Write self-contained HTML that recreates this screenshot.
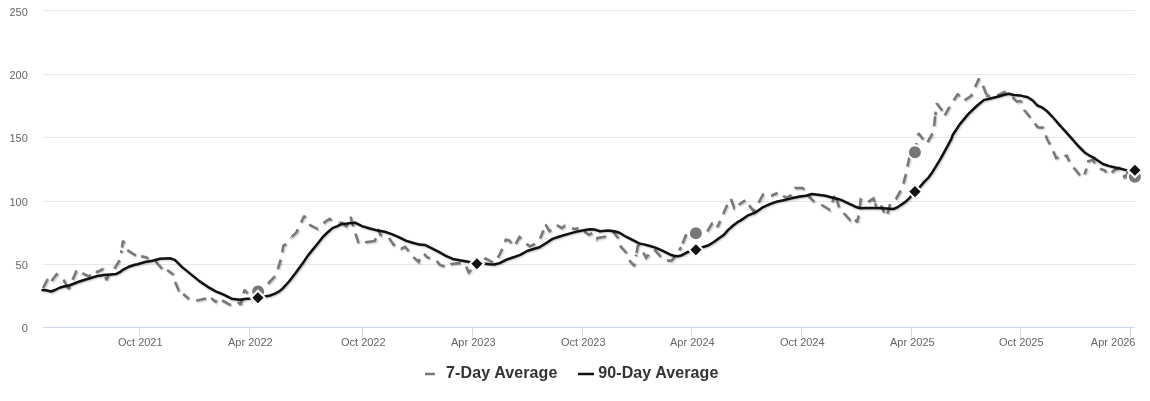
<!DOCTYPE html>
<html><head><meta charset="utf-8"><style>
html,body{margin:0;padding:0;background:#fff;}
svg{display:block;will-change:transform;}
.yl{font-family:"Liberation Sans",Arial,sans-serif;font-size:11px;fill:#666;}
.xl{font-family:"Liberation Sans",Arial,sans-serif;font-size:11px;fill:#666;}
.lg{font-family:"Liberation Sans",Arial,sans-serif;font-size:16px;font-weight:bold;fill:#333;}
</style></head><body>
<svg width="1150" height="401" viewBox="0 0 1150 401">
<path d="M43 10.5H1135" stroke="#e6e6e6" stroke-width="1"/>
<path d="M43 74.5H1135" stroke="#e6e6e6" stroke-width="1"/>
<path d="M43 137.5H1135" stroke="#e6e6e6" stroke-width="1"/>
<path d="M43 201.5H1135" stroke="#e6e6e6" stroke-width="1"/>
<path d="M43 264.5H1135" stroke="#e6e6e6" stroke-width="1"/>
<path d="M43 327.5H1135" stroke="#ccd6eb" stroke-width="1"/>
<path d="M139.5 327V337" stroke="#ccd6eb" stroke-width="1"/>
<path d="M249.5 327V337" stroke="#ccd6eb" stroke-width="1"/>
<path d="M362.5 327V337" stroke="#ccd6eb" stroke-width="1"/>
<path d="M472.5 327V337" stroke="#ccd6eb" stroke-width="1"/>
<path d="M582.5 327V337" stroke="#ccd6eb" stroke-width="1"/>
<path d="M691.5 327V337" stroke="#ccd6eb" stroke-width="1"/>
<path d="M801.5 327V337" stroke="#ccd6eb" stroke-width="1"/>
<path d="M911.5 327V337" stroke="#ccd6eb" stroke-width="1"/>
<path d="M1020.5 327V337" stroke="#ccd6eb" stroke-width="1"/>
<path d="M1130.5 327V337" stroke="#ccd6eb" stroke-width="1"/>
<text x="27.8" y="16" text-anchor="end" class="yl">250</text>
<text x="27.8" y="79" text-anchor="end" class="yl">200</text>
<text x="27.8" y="142" text-anchor="end" class="yl">150</text>
<text x="27.8" y="206" text-anchor="end" class="yl">100</text>
<text x="27.8" y="269" text-anchor="end" class="yl">50</text>
<text x="27.8" y="332" text-anchor="end" class="yl">0</text>
<text x="140.3" y="346" text-anchor="middle" class="xl">Oct 2021</text>
<text x="250.3" y="346" text-anchor="middle" class="xl">Apr 2022</text>
<text x="363.3" y="346" text-anchor="middle" class="xl">Oct 2022</text>
<text x="473.3" y="346" text-anchor="middle" class="xl">Apr 2023</text>
<text x="583.3" y="346" text-anchor="middle" class="xl">Oct 2023</text>
<text x="692.3" y="346" text-anchor="middle" class="xl">Apr 2024</text>
<text x="802.3" y="346" text-anchor="middle" class="xl">Oct 2024</text>
<text x="912.3" y="346" text-anchor="middle" class="xl">Apr 2025</text>
<text x="1021.3" y="346" text-anchor="middle" class="xl">Oct 2025</text>
<text x="1135.5" y="346" text-anchor="end" class="xl">Apr 2026</text>
<g fill="none" stroke="#000" stroke-opacity="0.05" stroke-width="5" stroke-dasharray="10,7.5" stroke-miterlimit="2" transform="translate(1,1)"><path d="M43.00 288.00 L47.14 280.14" stroke-dashoffset="0.00"/><path d="M47.14 280.14 L48.80 277.00 L51.30 281.30 L56.50 274.30 L59.50 276.50 L62.50 277.80 L68.39 288.80" stroke-dashoffset="8.62"/><path d="M68.39 288.80 L68.50 289.00 L77.00 269.50 L82.00 273.00 L89.00 276.50 L93.70 270.50 L97.00 272.00 L102.50 269.30 L102.63 269.66" stroke-dashoffset="7.17"/><path d="M102.63 269.66 L106.50 280.00 L109.30 272.40 L114.30 268.70 L119.90 259.90 L121.46 250.19" stroke-dashoffset="9.64"/><path d="M121.46 250.19 L123.00 240.60 L127.00 250.00 L135.00 255.00 L138.00 255.90 L141.01 256.34" stroke-dashoffset="14.73"/><path d="M141.01 256.34 L144.90 256.90 L155.90 261.90 L162.90 269.80 L166.90 269.80 L167.09 269.94" stroke-dashoffset="2.23"/><path d="M167.09 269.94 L173.80 274.80 L174.50 280.50 L178.80 290.80 L182.80 293.70 L183.20 294.04" stroke-dashoffset="1.97"/><path d="M183.20 294.04 L189.80 299.70 L195.70 300.70 L204.70 298.70 L210.97 298.70" stroke-dashoffset="2.37"/><path d="M210.97 298.70 L211.70 298.70 L215.70 301.70 L218.60 297.70 L222.60 300.70 L229.60 304.70 L237.60 301.70 L240.60 304.70 L243.60 293.23" stroke-dashoffset="2.45"/><path d="M243.60 293.23 L244.50 289.80 L249.50 295.70 L258.00 290.30 L268.00 283.70 L274.08 277.09" stroke-dashoffset="1.67"/><path d="M274.08 277.09 L276.00 275.00 L281.00 258.50 L283.40 245.60 L286.70 243.90 L291.10 237.60 L291.19 237.51" stroke-dashoffset="8.52"/><path d="M291.19 237.51 L296.40 232.30 L304.20 215.70 L306.00 219.20 L310.30 225.30 L317.30 228.80 L325.20 221.80 L329.50 218.90 L333.00 221.80 L339.29 222.52" stroke-dashoffset="16.75"/><path d="M339.29 222.52 L340.90 222.70 L346.20 226.20 L350.60 216.80 L353.10 226.20 L358.70 243.70 L362.00 244.00 L365.50 242.20 L374.90 240.90 L374.96 240.66" stroke-dashoffset="16.70"/><path d="M374.96 240.66 L378.00 229.00 L380.50 235.00 L388.60 237.40 L393.60 244.90 L395.60 243.70 L400.91 248.44" stroke-dashoffset="7.36"/><path d="M400.91 248.44 L401.20 248.70 L405.00 246.80 L409.30 251.80 L413.70 257.40 L418.50 261.80 L421.00 256.00 L423.50 253.50 L427.40 257.40 L429.72 258.22" stroke-dashoffset="17.18"/><path d="M429.72 258.22 L431.10 258.70 L436.80 261.20 L439.90 264.90 L443.60 266.10 L447.40 267.40 L450.60 264.30 L459.30 263.00 L464.90 263.70 L468.70 272.40 L473.50 267.25" stroke-dashoffset="10.13"/><path d="M473.50 267.25 L476.80 263.70 L485.50 258.50 L493.60 263.00 L498.60 256.20 L503.00 247.30 L505.80 239.70 L509.20 240.40 L510.84 242.52" stroke-dashoffset="4.03"/><path d="M510.84 242.52 L514.00 246.60 L519.50 237.00 L523.00 240.40 L526.40 243.80 L529.80 246.30 L534.00 244.50 L539.50 239.70 L542.90 231.50 L543.09 230.79" stroke-dashoffset="9.09"/><path d="M543.09 230.79 L545.00 223.70 L549.40 231.20 L556.80 225.00 L561.80 228.10 L564.90 225.60 L569.90 227.20 L573.70 228.90 L578.42 228.29" stroke-dashoffset="9.30"/><path d="M578.42 228.29 L579.90 228.10 L584.90 231.80 L588.60 234.90 L592.40 233.10 L596.70 239.00 L597.40 238.00 L605.00 236.70 L611.63 230.07" stroke-dashoffset="10.96"/><path d="M611.63 230.07 L611.70 230.00 L617.70 237.50 L619.30 245.00 L625.90 252.40 L628.90 259.90 L634.20 265.90 L636.20 254.52" stroke-dashoffset="16.70"/><path d="M636.20 254.52 L637.90 244.90 L643.10 252.40 L646.10 257.70 L649.10 253.90 L654.20 249.40 L660.20 256.20 L665.00 260.50 L671.40 260.70 L677.40 253.90 L680.92 246.94" stroke-dashoffset="15.87"/><path d="M680.92 246.94 L681.90 245.00 L687.90 230.20 L695.80 233.30 L706.50 232.70 L712.10 223.30 L715.50 223.60 L716.81 225.53" stroke-dashoffset="13.71"/><path d="M716.81 225.53 L717.60 226.70 L720.30 220.50 L727.20 204.80 L730.80 198.60 L734.20 208.00 L738.78 204.82" stroke-dashoffset="2.25"/><path d="M738.78 204.82 L738.80 204.80 L746.10 199.60 L749.90 206.20 L753.60 211.20 L758.60 202.50 L763.10 194.30 L771.20 195.60 L777.46 193.01" stroke-dashoffset="2.18"/><path d="M777.46 193.01 L778.70 192.50 L786.20 198.10 L791.20 195.00 L794.90 188.10 L802.40 188.10 L804.90 190.00 L807.98 195.17" stroke-dashoffset="10.63"/><path d="M807.98 195.17 L808.60 196.20 L813.60 201.20 L821.20 204.70 L829.60 209.70 L832.40 201.90 L834.59 195.54" stroke-dashoffset="0.79"/><path d="M834.59 195.54 L835.40 193.20 L836.90 200.20 L839.70 209.70 L843.60 213.10 L849.80 219.80 L852.00 216.50 L857.10 222.10 L859.30 212.00 L860.60 199.50 L866.60 203.00 L873.40 198.50 L875.03 203.23" stroke-dashoffset="10.28"/><path d="M875.03 203.23 L876.70 208.10 L878.20 210.50 L881.80 205.80 L885.10 215.90 L886.00 216.50 L887.40 213.70 L890.20 203.60 L895.80 199.10 L900.30 191.20 L903.10 184.50 L905.50 175.20 L909.20 158.00 L914.78 152.13" stroke-dashoffset="6.33"/><path d="M914.78 152.13 L914.90 152.00 L918.50 133.30 L926.50 143.80 L932.50 133.40 L934.20 124.40 L935.26 115.11" stroke-dashoffset="0.62"/><path d="M935.26 115.11 L936.60 103.30 L941.40 109.50 L944.00 116.50 L949.70 106.50 L957.90 93.70 L958.47 94.84" stroke-dashoffset="6.44"/><path d="M958.47 94.84 L960.90 99.70 L964.50 100.20 L971.20 95.70 L978.90 78.60 L982.50 84.50 L986.85 95.58" stroke-dashoffset="8.38"/><path d="M986.85 95.58 L986.90 95.70 L995.90 96.40 L1004.20 92.00 L1012.40 97.20 L1016.90 101.70 L1020.00 100.90 L1020.07 100.95" stroke-dashoffset="6.91"/><path d="M1020.07 100.95 L1021.20 101.70 L1024.20 110.00 L1030.20 117.40 L1037.70 127.20 L1042.07 127.54" stroke-dashoffset="7.68"/><path d="M1042.07 127.54 L1042.90 127.60 L1047.40 140.00 L1050.50 145.10 L1056.20 158.10 L1064.45 156.21" stroke-dashoffset="8.38"/><path d="M1064.45 156.21 L1066.70 155.70 L1070.00 163.00 L1079.70 175.10 L1083.30 177.50 L1086.20 169.50 L1086.45 168.48" stroke-dashoffset="1.48"/><path d="M1086.45 168.48 L1088.20 161.30 L1093.00 159.90 L1095.10 164.00 L1100.60 168.80 L1104.50 170.30 L1106.48 172.36" stroke-dashoffset="11.31"/><path d="M1106.48 172.36 L1107.10 173.00 L1108.20 175.20 L1111.60 172.60 L1114.20 170.30 L1119.00 167.80 L1125.00 178.00 L1128.50 171.00 L1134.90 176.80" stroke-dashoffset="9.87"/></g>
<g fill="none" stroke="#000" stroke-opacity="0.1" stroke-width="3" stroke-dasharray="10,7.5" stroke-miterlimit="2" transform="translate(1,1)"><path d="M43.00 288.00 L47.14 280.14" stroke-dashoffset="0.00"/><path d="M47.14 280.14 L48.80 277.00 L51.30 281.30 L56.50 274.30 L59.50 276.50 L62.50 277.80 L68.39 288.80" stroke-dashoffset="8.62"/><path d="M68.39 288.80 L68.50 289.00 L77.00 269.50 L82.00 273.00 L89.00 276.50 L93.70 270.50 L97.00 272.00 L102.50 269.30 L102.63 269.66" stroke-dashoffset="7.17"/><path d="M102.63 269.66 L106.50 280.00 L109.30 272.40 L114.30 268.70 L119.90 259.90 L121.46 250.19" stroke-dashoffset="9.64"/><path d="M121.46 250.19 L123.00 240.60 L127.00 250.00 L135.00 255.00 L138.00 255.90 L141.01 256.34" stroke-dashoffset="14.73"/><path d="M141.01 256.34 L144.90 256.90 L155.90 261.90 L162.90 269.80 L166.90 269.80 L167.09 269.94" stroke-dashoffset="2.23"/><path d="M167.09 269.94 L173.80 274.80 L174.50 280.50 L178.80 290.80 L182.80 293.70 L183.20 294.04" stroke-dashoffset="1.97"/><path d="M183.20 294.04 L189.80 299.70 L195.70 300.70 L204.70 298.70 L210.97 298.70" stroke-dashoffset="2.37"/><path d="M210.97 298.70 L211.70 298.70 L215.70 301.70 L218.60 297.70 L222.60 300.70 L229.60 304.70 L237.60 301.70 L240.60 304.70 L243.60 293.23" stroke-dashoffset="2.45"/><path d="M243.60 293.23 L244.50 289.80 L249.50 295.70 L258.00 290.30 L268.00 283.70 L274.08 277.09" stroke-dashoffset="1.67"/><path d="M274.08 277.09 L276.00 275.00 L281.00 258.50 L283.40 245.60 L286.70 243.90 L291.10 237.60 L291.19 237.51" stroke-dashoffset="8.52"/><path d="M291.19 237.51 L296.40 232.30 L304.20 215.70 L306.00 219.20 L310.30 225.30 L317.30 228.80 L325.20 221.80 L329.50 218.90 L333.00 221.80 L339.29 222.52" stroke-dashoffset="16.75"/><path d="M339.29 222.52 L340.90 222.70 L346.20 226.20 L350.60 216.80 L353.10 226.20 L358.70 243.70 L362.00 244.00 L365.50 242.20 L374.90 240.90 L374.96 240.66" stroke-dashoffset="16.70"/><path d="M374.96 240.66 L378.00 229.00 L380.50 235.00 L388.60 237.40 L393.60 244.90 L395.60 243.70 L400.91 248.44" stroke-dashoffset="7.36"/><path d="M400.91 248.44 L401.20 248.70 L405.00 246.80 L409.30 251.80 L413.70 257.40 L418.50 261.80 L421.00 256.00 L423.50 253.50 L427.40 257.40 L429.72 258.22" stroke-dashoffset="17.18"/><path d="M429.72 258.22 L431.10 258.70 L436.80 261.20 L439.90 264.90 L443.60 266.10 L447.40 267.40 L450.60 264.30 L459.30 263.00 L464.90 263.70 L468.70 272.40 L473.50 267.25" stroke-dashoffset="10.13"/><path d="M473.50 267.25 L476.80 263.70 L485.50 258.50 L493.60 263.00 L498.60 256.20 L503.00 247.30 L505.80 239.70 L509.20 240.40 L510.84 242.52" stroke-dashoffset="4.03"/><path d="M510.84 242.52 L514.00 246.60 L519.50 237.00 L523.00 240.40 L526.40 243.80 L529.80 246.30 L534.00 244.50 L539.50 239.70 L542.90 231.50 L543.09 230.79" stroke-dashoffset="9.09"/><path d="M543.09 230.79 L545.00 223.70 L549.40 231.20 L556.80 225.00 L561.80 228.10 L564.90 225.60 L569.90 227.20 L573.70 228.90 L578.42 228.29" stroke-dashoffset="9.30"/><path d="M578.42 228.29 L579.90 228.10 L584.90 231.80 L588.60 234.90 L592.40 233.10 L596.70 239.00 L597.40 238.00 L605.00 236.70 L611.63 230.07" stroke-dashoffset="10.96"/><path d="M611.63 230.07 L611.70 230.00 L617.70 237.50 L619.30 245.00 L625.90 252.40 L628.90 259.90 L634.20 265.90 L636.20 254.52" stroke-dashoffset="16.70"/><path d="M636.20 254.52 L637.90 244.90 L643.10 252.40 L646.10 257.70 L649.10 253.90 L654.20 249.40 L660.20 256.20 L665.00 260.50 L671.40 260.70 L677.40 253.90 L680.92 246.94" stroke-dashoffset="15.87"/><path d="M680.92 246.94 L681.90 245.00 L687.90 230.20 L695.80 233.30 L706.50 232.70 L712.10 223.30 L715.50 223.60 L716.81 225.53" stroke-dashoffset="13.71"/><path d="M716.81 225.53 L717.60 226.70 L720.30 220.50 L727.20 204.80 L730.80 198.60 L734.20 208.00 L738.78 204.82" stroke-dashoffset="2.25"/><path d="M738.78 204.82 L738.80 204.80 L746.10 199.60 L749.90 206.20 L753.60 211.20 L758.60 202.50 L763.10 194.30 L771.20 195.60 L777.46 193.01" stroke-dashoffset="2.18"/><path d="M777.46 193.01 L778.70 192.50 L786.20 198.10 L791.20 195.00 L794.90 188.10 L802.40 188.10 L804.90 190.00 L807.98 195.17" stroke-dashoffset="10.63"/><path d="M807.98 195.17 L808.60 196.20 L813.60 201.20 L821.20 204.70 L829.60 209.70 L832.40 201.90 L834.59 195.54" stroke-dashoffset="0.79"/><path d="M834.59 195.54 L835.40 193.20 L836.90 200.20 L839.70 209.70 L843.60 213.10 L849.80 219.80 L852.00 216.50 L857.10 222.10 L859.30 212.00 L860.60 199.50 L866.60 203.00 L873.40 198.50 L875.03 203.23" stroke-dashoffset="10.28"/><path d="M875.03 203.23 L876.70 208.10 L878.20 210.50 L881.80 205.80 L885.10 215.90 L886.00 216.50 L887.40 213.70 L890.20 203.60 L895.80 199.10 L900.30 191.20 L903.10 184.50 L905.50 175.20 L909.20 158.00 L914.78 152.13" stroke-dashoffset="6.33"/><path d="M914.78 152.13 L914.90 152.00 L918.50 133.30 L926.50 143.80 L932.50 133.40 L934.20 124.40 L935.26 115.11" stroke-dashoffset="0.62"/><path d="M935.26 115.11 L936.60 103.30 L941.40 109.50 L944.00 116.50 L949.70 106.50 L957.90 93.70 L958.47 94.84" stroke-dashoffset="6.44"/><path d="M958.47 94.84 L960.90 99.70 L964.50 100.20 L971.20 95.70 L978.90 78.60 L982.50 84.50 L986.85 95.58" stroke-dashoffset="8.38"/><path d="M986.85 95.58 L986.90 95.70 L995.90 96.40 L1004.20 92.00 L1012.40 97.20 L1016.90 101.70 L1020.00 100.90 L1020.07 100.95" stroke-dashoffset="6.91"/><path d="M1020.07 100.95 L1021.20 101.70 L1024.20 110.00 L1030.20 117.40 L1037.70 127.20 L1042.07 127.54" stroke-dashoffset="7.68"/><path d="M1042.07 127.54 L1042.90 127.60 L1047.40 140.00 L1050.50 145.10 L1056.20 158.10 L1064.45 156.21" stroke-dashoffset="8.38"/><path d="M1064.45 156.21 L1066.70 155.70 L1070.00 163.00 L1079.70 175.10 L1083.30 177.50 L1086.20 169.50 L1086.45 168.48" stroke-dashoffset="1.48"/><path d="M1086.45 168.48 L1088.20 161.30 L1093.00 159.90 L1095.10 164.00 L1100.60 168.80 L1104.50 170.30 L1106.48 172.36" stroke-dashoffset="11.31"/><path d="M1106.48 172.36 L1107.10 173.00 L1108.20 175.20 L1111.60 172.60 L1114.20 170.30 L1119.00 167.80 L1125.00 178.00 L1128.50 171.00 L1134.90 176.80" stroke-dashoffset="9.87"/></g>
<g fill="none" stroke="#000" stroke-opacity="0.15" stroke-width="1" stroke-dasharray="10,7.5" stroke-miterlimit="2" transform="translate(1,1)"><path d="M43.00 288.00 L47.14 280.14" stroke-dashoffset="0.00"/><path d="M47.14 280.14 L48.80 277.00 L51.30 281.30 L56.50 274.30 L59.50 276.50 L62.50 277.80 L68.39 288.80" stroke-dashoffset="8.62"/><path d="M68.39 288.80 L68.50 289.00 L77.00 269.50 L82.00 273.00 L89.00 276.50 L93.70 270.50 L97.00 272.00 L102.50 269.30 L102.63 269.66" stroke-dashoffset="7.17"/><path d="M102.63 269.66 L106.50 280.00 L109.30 272.40 L114.30 268.70 L119.90 259.90 L121.46 250.19" stroke-dashoffset="9.64"/><path d="M121.46 250.19 L123.00 240.60 L127.00 250.00 L135.00 255.00 L138.00 255.90 L141.01 256.34" stroke-dashoffset="14.73"/><path d="M141.01 256.34 L144.90 256.90 L155.90 261.90 L162.90 269.80 L166.90 269.80 L167.09 269.94" stroke-dashoffset="2.23"/><path d="M167.09 269.94 L173.80 274.80 L174.50 280.50 L178.80 290.80 L182.80 293.70 L183.20 294.04" stroke-dashoffset="1.97"/><path d="M183.20 294.04 L189.80 299.70 L195.70 300.70 L204.70 298.70 L210.97 298.70" stroke-dashoffset="2.37"/><path d="M210.97 298.70 L211.70 298.70 L215.70 301.70 L218.60 297.70 L222.60 300.70 L229.60 304.70 L237.60 301.70 L240.60 304.70 L243.60 293.23" stroke-dashoffset="2.45"/><path d="M243.60 293.23 L244.50 289.80 L249.50 295.70 L258.00 290.30 L268.00 283.70 L274.08 277.09" stroke-dashoffset="1.67"/><path d="M274.08 277.09 L276.00 275.00 L281.00 258.50 L283.40 245.60 L286.70 243.90 L291.10 237.60 L291.19 237.51" stroke-dashoffset="8.52"/><path d="M291.19 237.51 L296.40 232.30 L304.20 215.70 L306.00 219.20 L310.30 225.30 L317.30 228.80 L325.20 221.80 L329.50 218.90 L333.00 221.80 L339.29 222.52" stroke-dashoffset="16.75"/><path d="M339.29 222.52 L340.90 222.70 L346.20 226.20 L350.60 216.80 L353.10 226.20 L358.70 243.70 L362.00 244.00 L365.50 242.20 L374.90 240.90 L374.96 240.66" stroke-dashoffset="16.70"/><path d="M374.96 240.66 L378.00 229.00 L380.50 235.00 L388.60 237.40 L393.60 244.90 L395.60 243.70 L400.91 248.44" stroke-dashoffset="7.36"/><path d="M400.91 248.44 L401.20 248.70 L405.00 246.80 L409.30 251.80 L413.70 257.40 L418.50 261.80 L421.00 256.00 L423.50 253.50 L427.40 257.40 L429.72 258.22" stroke-dashoffset="17.18"/><path d="M429.72 258.22 L431.10 258.70 L436.80 261.20 L439.90 264.90 L443.60 266.10 L447.40 267.40 L450.60 264.30 L459.30 263.00 L464.90 263.70 L468.70 272.40 L473.50 267.25" stroke-dashoffset="10.13"/><path d="M473.50 267.25 L476.80 263.70 L485.50 258.50 L493.60 263.00 L498.60 256.20 L503.00 247.30 L505.80 239.70 L509.20 240.40 L510.84 242.52" stroke-dashoffset="4.03"/><path d="M510.84 242.52 L514.00 246.60 L519.50 237.00 L523.00 240.40 L526.40 243.80 L529.80 246.30 L534.00 244.50 L539.50 239.70 L542.90 231.50 L543.09 230.79" stroke-dashoffset="9.09"/><path d="M543.09 230.79 L545.00 223.70 L549.40 231.20 L556.80 225.00 L561.80 228.10 L564.90 225.60 L569.90 227.20 L573.70 228.90 L578.42 228.29" stroke-dashoffset="9.30"/><path d="M578.42 228.29 L579.90 228.10 L584.90 231.80 L588.60 234.90 L592.40 233.10 L596.70 239.00 L597.40 238.00 L605.00 236.70 L611.63 230.07" stroke-dashoffset="10.96"/><path d="M611.63 230.07 L611.70 230.00 L617.70 237.50 L619.30 245.00 L625.90 252.40 L628.90 259.90 L634.20 265.90 L636.20 254.52" stroke-dashoffset="16.70"/><path d="M636.20 254.52 L637.90 244.90 L643.10 252.40 L646.10 257.70 L649.10 253.90 L654.20 249.40 L660.20 256.20 L665.00 260.50 L671.40 260.70 L677.40 253.90 L680.92 246.94" stroke-dashoffset="15.87"/><path d="M680.92 246.94 L681.90 245.00 L687.90 230.20 L695.80 233.30 L706.50 232.70 L712.10 223.30 L715.50 223.60 L716.81 225.53" stroke-dashoffset="13.71"/><path d="M716.81 225.53 L717.60 226.70 L720.30 220.50 L727.20 204.80 L730.80 198.60 L734.20 208.00 L738.78 204.82" stroke-dashoffset="2.25"/><path d="M738.78 204.82 L738.80 204.80 L746.10 199.60 L749.90 206.20 L753.60 211.20 L758.60 202.50 L763.10 194.30 L771.20 195.60 L777.46 193.01" stroke-dashoffset="2.18"/><path d="M777.46 193.01 L778.70 192.50 L786.20 198.10 L791.20 195.00 L794.90 188.10 L802.40 188.10 L804.90 190.00 L807.98 195.17" stroke-dashoffset="10.63"/><path d="M807.98 195.17 L808.60 196.20 L813.60 201.20 L821.20 204.70 L829.60 209.70 L832.40 201.90 L834.59 195.54" stroke-dashoffset="0.79"/><path d="M834.59 195.54 L835.40 193.20 L836.90 200.20 L839.70 209.70 L843.60 213.10 L849.80 219.80 L852.00 216.50 L857.10 222.10 L859.30 212.00 L860.60 199.50 L866.60 203.00 L873.40 198.50 L875.03 203.23" stroke-dashoffset="10.28"/><path d="M875.03 203.23 L876.70 208.10 L878.20 210.50 L881.80 205.80 L885.10 215.90 L886.00 216.50 L887.40 213.70 L890.20 203.60 L895.80 199.10 L900.30 191.20 L903.10 184.50 L905.50 175.20 L909.20 158.00 L914.78 152.13" stroke-dashoffset="6.33"/><path d="M914.78 152.13 L914.90 152.00 L918.50 133.30 L926.50 143.80 L932.50 133.40 L934.20 124.40 L935.26 115.11" stroke-dashoffset="0.62"/><path d="M935.26 115.11 L936.60 103.30 L941.40 109.50 L944.00 116.50 L949.70 106.50 L957.90 93.70 L958.47 94.84" stroke-dashoffset="6.44"/><path d="M958.47 94.84 L960.90 99.70 L964.50 100.20 L971.20 95.70 L978.90 78.60 L982.50 84.50 L986.85 95.58" stroke-dashoffset="8.38"/><path d="M986.85 95.58 L986.90 95.70 L995.90 96.40 L1004.20 92.00 L1012.40 97.20 L1016.90 101.70 L1020.00 100.90 L1020.07 100.95" stroke-dashoffset="6.91"/><path d="M1020.07 100.95 L1021.20 101.70 L1024.20 110.00 L1030.20 117.40 L1037.70 127.20 L1042.07 127.54" stroke-dashoffset="7.68"/><path d="M1042.07 127.54 L1042.90 127.60 L1047.40 140.00 L1050.50 145.10 L1056.20 158.10 L1064.45 156.21" stroke-dashoffset="8.38"/><path d="M1064.45 156.21 L1066.70 155.70 L1070.00 163.00 L1079.70 175.10 L1083.30 177.50 L1086.20 169.50 L1086.45 168.48" stroke-dashoffset="1.48"/><path d="M1086.45 168.48 L1088.20 161.30 L1093.00 159.90 L1095.10 164.00 L1100.60 168.80 L1104.50 170.30 L1106.48 172.36" stroke-dashoffset="11.31"/><path d="M1106.48 172.36 L1107.10 173.00 L1108.20 175.20 L1111.60 172.60 L1114.20 170.30 L1119.00 167.80 L1125.00 178.00 L1128.50 171.00 L1134.90 176.80" stroke-dashoffset="9.87"/></g>
<g fill="none" stroke="#777" stroke-width="2.5" stroke-dasharray="10,7.5" stroke-miterlimit="2"><path d="M43.00 288.00 L47.14 280.14" stroke-dashoffset="0.00"/><path d="M47.14 280.14 L48.80 277.00 L51.30 281.30 L56.50 274.30 L59.50 276.50 L62.50 277.80 L68.39 288.80" stroke-dashoffset="8.62"/><path d="M68.39 288.80 L68.50 289.00 L77.00 269.50 L82.00 273.00 L89.00 276.50 L93.70 270.50 L97.00 272.00 L102.50 269.30 L102.63 269.66" stroke-dashoffset="7.17"/><path d="M102.63 269.66 L106.50 280.00 L109.30 272.40 L114.30 268.70 L119.90 259.90 L121.46 250.19" stroke-dashoffset="9.64"/><path d="M121.46 250.19 L123.00 240.60 L127.00 250.00 L135.00 255.00 L138.00 255.90 L141.01 256.34" stroke-dashoffset="14.73"/><path d="M141.01 256.34 L144.90 256.90 L155.90 261.90 L162.90 269.80 L166.90 269.80 L167.09 269.94" stroke-dashoffset="2.23"/><path d="M167.09 269.94 L173.80 274.80 L174.50 280.50 L178.80 290.80 L182.80 293.70 L183.20 294.04" stroke-dashoffset="1.97"/><path d="M183.20 294.04 L189.80 299.70 L195.70 300.70 L204.70 298.70 L210.97 298.70" stroke-dashoffset="2.37"/><path d="M210.97 298.70 L211.70 298.70 L215.70 301.70 L218.60 297.70 L222.60 300.70 L229.60 304.70 L237.60 301.70 L240.60 304.70 L243.60 293.23" stroke-dashoffset="2.45"/><path d="M243.60 293.23 L244.50 289.80 L249.50 295.70 L258.00 290.30 L268.00 283.70 L274.08 277.09" stroke-dashoffset="1.67"/><path d="M274.08 277.09 L276.00 275.00 L281.00 258.50 L283.40 245.60 L286.70 243.90 L291.10 237.60 L291.19 237.51" stroke-dashoffset="8.52"/><path d="M291.19 237.51 L296.40 232.30 L304.20 215.70 L306.00 219.20 L310.30 225.30 L317.30 228.80 L325.20 221.80 L329.50 218.90 L333.00 221.80 L339.29 222.52" stroke-dashoffset="16.75"/><path d="M339.29 222.52 L340.90 222.70 L346.20 226.20 L350.60 216.80 L353.10 226.20 L358.70 243.70 L362.00 244.00 L365.50 242.20 L374.90 240.90 L374.96 240.66" stroke-dashoffset="16.70"/><path d="M374.96 240.66 L378.00 229.00 L380.50 235.00 L388.60 237.40 L393.60 244.90 L395.60 243.70 L400.91 248.44" stroke-dashoffset="7.36"/><path d="M400.91 248.44 L401.20 248.70 L405.00 246.80 L409.30 251.80 L413.70 257.40 L418.50 261.80 L421.00 256.00 L423.50 253.50 L427.40 257.40 L429.72 258.22" stroke-dashoffset="17.18"/><path d="M429.72 258.22 L431.10 258.70 L436.80 261.20 L439.90 264.90 L443.60 266.10 L447.40 267.40 L450.60 264.30 L459.30 263.00 L464.90 263.70 L468.70 272.40 L473.50 267.25" stroke-dashoffset="10.13"/><path d="M473.50 267.25 L476.80 263.70 L485.50 258.50 L493.60 263.00 L498.60 256.20 L503.00 247.30 L505.80 239.70 L509.20 240.40 L510.84 242.52" stroke-dashoffset="4.03"/><path d="M510.84 242.52 L514.00 246.60 L519.50 237.00 L523.00 240.40 L526.40 243.80 L529.80 246.30 L534.00 244.50 L539.50 239.70 L542.90 231.50 L543.09 230.79" stroke-dashoffset="9.09"/><path d="M543.09 230.79 L545.00 223.70 L549.40 231.20 L556.80 225.00 L561.80 228.10 L564.90 225.60 L569.90 227.20 L573.70 228.90 L578.42 228.29" stroke-dashoffset="9.30"/><path d="M578.42 228.29 L579.90 228.10 L584.90 231.80 L588.60 234.90 L592.40 233.10 L596.70 239.00 L597.40 238.00 L605.00 236.70 L611.63 230.07" stroke-dashoffset="10.96"/><path d="M611.63 230.07 L611.70 230.00 L617.70 237.50 L619.30 245.00 L625.90 252.40 L628.90 259.90 L634.20 265.90 L636.20 254.52" stroke-dashoffset="16.70"/><path d="M636.20 254.52 L637.90 244.90 L643.10 252.40 L646.10 257.70 L649.10 253.90 L654.20 249.40 L660.20 256.20 L665.00 260.50 L671.40 260.70 L677.40 253.90 L680.92 246.94" stroke-dashoffset="15.87"/><path d="M680.92 246.94 L681.90 245.00 L687.90 230.20 L695.80 233.30 L706.50 232.70 L712.10 223.30 L715.50 223.60 L716.81 225.53" stroke-dashoffset="13.71"/><path d="M716.81 225.53 L717.60 226.70 L720.30 220.50 L727.20 204.80 L730.80 198.60 L734.20 208.00 L738.78 204.82" stroke-dashoffset="2.25"/><path d="M738.78 204.82 L738.80 204.80 L746.10 199.60 L749.90 206.20 L753.60 211.20 L758.60 202.50 L763.10 194.30 L771.20 195.60 L777.46 193.01" stroke-dashoffset="2.18"/><path d="M777.46 193.01 L778.70 192.50 L786.20 198.10 L791.20 195.00 L794.90 188.10 L802.40 188.10 L804.90 190.00 L807.98 195.17" stroke-dashoffset="10.63"/><path d="M807.98 195.17 L808.60 196.20 L813.60 201.20 L821.20 204.70 L829.60 209.70 L832.40 201.90 L834.59 195.54" stroke-dashoffset="0.79"/><path d="M834.59 195.54 L835.40 193.20 L836.90 200.20 L839.70 209.70 L843.60 213.10 L849.80 219.80 L852.00 216.50 L857.10 222.10 L859.30 212.00 L860.60 199.50 L866.60 203.00 L873.40 198.50 L875.03 203.23" stroke-dashoffset="10.28"/><path d="M875.03 203.23 L876.70 208.10 L878.20 210.50 L881.80 205.80 L885.10 215.90 L886.00 216.50 L887.40 213.70 L890.20 203.60 L895.80 199.10 L900.30 191.20 L903.10 184.50 L905.50 175.20 L909.20 158.00 L914.78 152.13" stroke-dashoffset="6.33"/><path d="M914.78 152.13 L914.90 152.00 L918.50 133.30 L926.50 143.80 L932.50 133.40 L934.20 124.40 L935.26 115.11" stroke-dashoffset="0.62"/><path d="M935.26 115.11 L936.60 103.30 L941.40 109.50 L944.00 116.50 L949.70 106.50 L957.90 93.70 L958.47 94.84" stroke-dashoffset="6.44"/><path d="M958.47 94.84 L960.90 99.70 L964.50 100.20 L971.20 95.70 L978.90 78.60 L982.50 84.50 L986.85 95.58" stroke-dashoffset="8.38"/><path d="M986.85 95.58 L986.90 95.70 L995.90 96.40 L1004.20 92.00 L1012.40 97.20 L1016.90 101.70 L1020.00 100.90 L1020.07 100.95" stroke-dashoffset="6.91"/><path d="M1020.07 100.95 L1021.20 101.70 L1024.20 110.00 L1030.20 117.40 L1037.70 127.20 L1042.07 127.54" stroke-dashoffset="7.68"/><path d="M1042.07 127.54 L1042.90 127.60 L1047.40 140.00 L1050.50 145.10 L1056.20 158.10 L1064.45 156.21" stroke-dashoffset="8.38"/><path d="M1064.45 156.21 L1066.70 155.70 L1070.00 163.00 L1079.70 175.10 L1083.30 177.50 L1086.20 169.50 L1086.45 168.48" stroke-dashoffset="1.48"/><path d="M1086.45 168.48 L1088.20 161.30 L1093.00 159.90 L1095.10 164.00 L1100.60 168.80 L1104.50 170.30 L1106.48 172.36" stroke-dashoffset="11.31"/><path d="M1106.48 172.36 L1107.10 173.00 L1108.20 175.20 L1111.60 172.60 L1114.20 170.30 L1119.00 167.80 L1125.00 178.00 L1128.50 171.00 L1134.90 176.80" stroke-dashoffset="9.87"/></g>
<circle cx="258.1" cy="291.4" r="7" fill="#777" stroke="#fff" stroke-width="2"/>
<circle cx="695.9" cy="233.3" r="7" fill="#777" stroke="#fff" stroke-width="2"/>
<circle cx="914.9" cy="152.2" r="7" fill="#777" stroke="#fff" stroke-width="2"/>
<circle cx="1134.9" cy="176.8" r="7" fill="#777" stroke="#fff" stroke-width="2"/>
<polyline points="42.5,290.1 46,290.2 51,291.5 55,290 60,287.5 65,286.2 69,285.5 73,284 78,282 84,280 90,278.2 97.5,275.9 103.7,274.9 109.9,274.6 116.2,273.9 119.3,272.4 123.7,269.3 128.6,266.8 134.9,264.7 137.5,264.2 145,262 152.5,260.7 160,258.7 165,258.4 169.8,258.3 174.8,259.9 181.8,266.9 189.8,273.4 199.7,281.4 207.7,286.8 215.7,291.4 223.6,294.7 231.6,298.7 239.6,299.7 244.9,298.9 249.5,298.5 258,297.5 265,296.5 270,295.5 275,293.6 279,291.5 282.5,288.6 289,281.5 295,273.8 302.5,263.6 307.5,256.1 312.5,249.9 317.5,243.7 322.4,237.4 327.4,232.5 332.4,228.1 337.4,226.2 342.4,223.7 347.4,223.5 350,223.1 353.7,223.1 355,222.6 362,226.1 369,228.3 377.7,230.6 384.7,231.8 391.7,234.1 398.7,237.1 405.7,240.6 412.6,242.8 419.6,244.6 424.9,244.9 431.9,248.4 438.8,251.9 445.8,255.8 452.8,258.9 459.8,260.3 466.8,261.5 476.8,263.7 484.9,263.7 489.9,264.3 494.1,264.5 499.6,263.1 506.5,259.6 513.4,257.3 520.2,254.8 527.1,251 532.6,249.3 539.5,247.3 546.2,243 552.5,238.9 558.7,236.8 564.9,234.9 571.2,233.1 577.4,231.4 583.6,230.3 589.9,229.3 594.9,229.6 600,231.2 608,230.4 615.4,231.5 619.9,233 625.9,236.7 633.4,240.4 639,243.4 644.9,244.6 650,246 655.4,247.6 662.8,250.9 670.3,254.7 674,255.8 677.8,256.2 681,255.5 683.8,254.2 689.8,250.9 695.8,249.3 702.5,247.3 708.7,245.2 714.2,241.8 719.7,237.7 723.8,234.9 727.9,230.1 733.4,225.3 738.8,221.2 740,220.9 747.5,215.7 755,212.7 762.5,207.4 769.9,204.1 777.4,201.4 784.9,199.9 792.4,198.1 799.9,196.6 805.9,195.7 811.9,194 817.8,194.7 825.3,195.7 832.8,197.7 840.3,199.6 847.8,203.2 855.3,206.7 860,208.2 866.2,208.1 877.5,208.1 886.2,208.4 893.2,209 896.7,207.7 900,205.5 905.4,201.9 910.2,197.3 914.8,191.7 919.3,187.6 924.2,181.9 928.2,177.9 932.3,172.2 936.4,165.7 941.2,157.6 946.1,148.7 951,139.7 952.7,135 959.7,124.4 968.4,113.9 977.2,105.5 984.1,99.9 989.4,98.7 996.4,97 1003.4,95 1008.6,93.8 1013.8,95 1020.8,95.6 1027.8,97.3 1033.1,100.8 1037.4,105.5 1041.8,107.3 1047.4,111.6 1053.5,118 1058,123.3 1062.4,128.1 1066.9,133.2 1071.4,138.2 1078.2,146 1084.9,152.7 1089,155.3 1093.9,157.9 1098.4,161 1102.9,164 1108.5,165.9 1114.1,167.3 1119.7,168.5 1125.3,169.9 1130,170.2 1134.6,170.3" fill="none" stroke="#000" stroke-opacity="0.05" stroke-width="5" transform="translate(1,1)" stroke-linejoin="round" stroke-linecap="round"/>
<polyline points="42.5,290.1 46,290.2 51,291.5 55,290 60,287.5 65,286.2 69,285.5 73,284 78,282 84,280 90,278.2 97.5,275.9 103.7,274.9 109.9,274.6 116.2,273.9 119.3,272.4 123.7,269.3 128.6,266.8 134.9,264.7 137.5,264.2 145,262 152.5,260.7 160,258.7 165,258.4 169.8,258.3 174.8,259.9 181.8,266.9 189.8,273.4 199.7,281.4 207.7,286.8 215.7,291.4 223.6,294.7 231.6,298.7 239.6,299.7 244.9,298.9 249.5,298.5 258,297.5 265,296.5 270,295.5 275,293.6 279,291.5 282.5,288.6 289,281.5 295,273.8 302.5,263.6 307.5,256.1 312.5,249.9 317.5,243.7 322.4,237.4 327.4,232.5 332.4,228.1 337.4,226.2 342.4,223.7 347.4,223.5 350,223.1 353.7,223.1 355,222.6 362,226.1 369,228.3 377.7,230.6 384.7,231.8 391.7,234.1 398.7,237.1 405.7,240.6 412.6,242.8 419.6,244.6 424.9,244.9 431.9,248.4 438.8,251.9 445.8,255.8 452.8,258.9 459.8,260.3 466.8,261.5 476.8,263.7 484.9,263.7 489.9,264.3 494.1,264.5 499.6,263.1 506.5,259.6 513.4,257.3 520.2,254.8 527.1,251 532.6,249.3 539.5,247.3 546.2,243 552.5,238.9 558.7,236.8 564.9,234.9 571.2,233.1 577.4,231.4 583.6,230.3 589.9,229.3 594.9,229.6 600,231.2 608,230.4 615.4,231.5 619.9,233 625.9,236.7 633.4,240.4 639,243.4 644.9,244.6 650,246 655.4,247.6 662.8,250.9 670.3,254.7 674,255.8 677.8,256.2 681,255.5 683.8,254.2 689.8,250.9 695.8,249.3 702.5,247.3 708.7,245.2 714.2,241.8 719.7,237.7 723.8,234.9 727.9,230.1 733.4,225.3 738.8,221.2 740,220.9 747.5,215.7 755,212.7 762.5,207.4 769.9,204.1 777.4,201.4 784.9,199.9 792.4,198.1 799.9,196.6 805.9,195.7 811.9,194 817.8,194.7 825.3,195.7 832.8,197.7 840.3,199.6 847.8,203.2 855.3,206.7 860,208.2 866.2,208.1 877.5,208.1 886.2,208.4 893.2,209 896.7,207.7 900,205.5 905.4,201.9 910.2,197.3 914.8,191.7 919.3,187.6 924.2,181.9 928.2,177.9 932.3,172.2 936.4,165.7 941.2,157.6 946.1,148.7 951,139.7 952.7,135 959.7,124.4 968.4,113.9 977.2,105.5 984.1,99.9 989.4,98.7 996.4,97 1003.4,95 1008.6,93.8 1013.8,95 1020.8,95.6 1027.8,97.3 1033.1,100.8 1037.4,105.5 1041.8,107.3 1047.4,111.6 1053.5,118 1058,123.3 1062.4,128.1 1066.9,133.2 1071.4,138.2 1078.2,146 1084.9,152.7 1089,155.3 1093.9,157.9 1098.4,161 1102.9,164 1108.5,165.9 1114.1,167.3 1119.7,168.5 1125.3,169.9 1130,170.2 1134.6,170.3" fill="none" stroke="#000" stroke-opacity="0.1" stroke-width="3" transform="translate(1,1)" stroke-linejoin="round" stroke-linecap="round"/>
<polyline points="42.5,290.1 46,290.2 51,291.5 55,290 60,287.5 65,286.2 69,285.5 73,284 78,282 84,280 90,278.2 97.5,275.9 103.7,274.9 109.9,274.6 116.2,273.9 119.3,272.4 123.7,269.3 128.6,266.8 134.9,264.7 137.5,264.2 145,262 152.5,260.7 160,258.7 165,258.4 169.8,258.3 174.8,259.9 181.8,266.9 189.8,273.4 199.7,281.4 207.7,286.8 215.7,291.4 223.6,294.7 231.6,298.7 239.6,299.7 244.9,298.9 249.5,298.5 258,297.5 265,296.5 270,295.5 275,293.6 279,291.5 282.5,288.6 289,281.5 295,273.8 302.5,263.6 307.5,256.1 312.5,249.9 317.5,243.7 322.4,237.4 327.4,232.5 332.4,228.1 337.4,226.2 342.4,223.7 347.4,223.5 350,223.1 353.7,223.1 355,222.6 362,226.1 369,228.3 377.7,230.6 384.7,231.8 391.7,234.1 398.7,237.1 405.7,240.6 412.6,242.8 419.6,244.6 424.9,244.9 431.9,248.4 438.8,251.9 445.8,255.8 452.8,258.9 459.8,260.3 466.8,261.5 476.8,263.7 484.9,263.7 489.9,264.3 494.1,264.5 499.6,263.1 506.5,259.6 513.4,257.3 520.2,254.8 527.1,251 532.6,249.3 539.5,247.3 546.2,243 552.5,238.9 558.7,236.8 564.9,234.9 571.2,233.1 577.4,231.4 583.6,230.3 589.9,229.3 594.9,229.6 600,231.2 608,230.4 615.4,231.5 619.9,233 625.9,236.7 633.4,240.4 639,243.4 644.9,244.6 650,246 655.4,247.6 662.8,250.9 670.3,254.7 674,255.8 677.8,256.2 681,255.5 683.8,254.2 689.8,250.9 695.8,249.3 702.5,247.3 708.7,245.2 714.2,241.8 719.7,237.7 723.8,234.9 727.9,230.1 733.4,225.3 738.8,221.2 740,220.9 747.5,215.7 755,212.7 762.5,207.4 769.9,204.1 777.4,201.4 784.9,199.9 792.4,198.1 799.9,196.6 805.9,195.7 811.9,194 817.8,194.7 825.3,195.7 832.8,197.7 840.3,199.6 847.8,203.2 855.3,206.7 860,208.2 866.2,208.1 877.5,208.1 886.2,208.4 893.2,209 896.7,207.7 900,205.5 905.4,201.9 910.2,197.3 914.8,191.7 919.3,187.6 924.2,181.9 928.2,177.9 932.3,172.2 936.4,165.7 941.2,157.6 946.1,148.7 951,139.7 952.7,135 959.7,124.4 968.4,113.9 977.2,105.5 984.1,99.9 989.4,98.7 996.4,97 1003.4,95 1008.6,93.8 1013.8,95 1020.8,95.6 1027.8,97.3 1033.1,100.8 1037.4,105.5 1041.8,107.3 1047.4,111.6 1053.5,118 1058,123.3 1062.4,128.1 1066.9,133.2 1071.4,138.2 1078.2,146 1084.9,152.7 1089,155.3 1093.9,157.9 1098.4,161 1102.9,164 1108.5,165.9 1114.1,167.3 1119.7,168.5 1125.3,169.9 1130,170.2 1134.6,170.3" fill="none" stroke="#000" stroke-opacity="0.15" stroke-width="1" transform="translate(1,1)" stroke-linejoin="round" stroke-linecap="round"/>
<polyline points="42.5,290.1 46,290.2 51,291.5 55,290 60,287.5 65,286.2 69,285.5 73,284 78,282 84,280 90,278.2 97.5,275.9 103.7,274.9 109.9,274.6 116.2,273.9 119.3,272.4 123.7,269.3 128.6,266.8 134.9,264.7 137.5,264.2 145,262 152.5,260.7 160,258.7 165,258.4 169.8,258.3 174.8,259.9 181.8,266.9 189.8,273.4 199.7,281.4 207.7,286.8 215.7,291.4 223.6,294.7 231.6,298.7 239.6,299.7 244.9,298.9 249.5,298.5 258,297.5 265,296.5 270,295.5 275,293.6 279,291.5 282.5,288.6 289,281.5 295,273.8 302.5,263.6 307.5,256.1 312.5,249.9 317.5,243.7 322.4,237.4 327.4,232.5 332.4,228.1 337.4,226.2 342.4,223.7 347.4,223.5 350,223.1 353.7,223.1 355,222.6 362,226.1 369,228.3 377.7,230.6 384.7,231.8 391.7,234.1 398.7,237.1 405.7,240.6 412.6,242.8 419.6,244.6 424.9,244.9 431.9,248.4 438.8,251.9 445.8,255.8 452.8,258.9 459.8,260.3 466.8,261.5 476.8,263.7 484.9,263.7 489.9,264.3 494.1,264.5 499.6,263.1 506.5,259.6 513.4,257.3 520.2,254.8 527.1,251 532.6,249.3 539.5,247.3 546.2,243 552.5,238.9 558.7,236.8 564.9,234.9 571.2,233.1 577.4,231.4 583.6,230.3 589.9,229.3 594.9,229.6 600,231.2 608,230.4 615.4,231.5 619.9,233 625.9,236.7 633.4,240.4 639,243.4 644.9,244.6 650,246 655.4,247.6 662.8,250.9 670.3,254.7 674,255.8 677.8,256.2 681,255.5 683.8,254.2 689.8,250.9 695.8,249.3 702.5,247.3 708.7,245.2 714.2,241.8 719.7,237.7 723.8,234.9 727.9,230.1 733.4,225.3 738.8,221.2 740,220.9 747.5,215.7 755,212.7 762.5,207.4 769.9,204.1 777.4,201.4 784.9,199.9 792.4,198.1 799.9,196.6 805.9,195.7 811.9,194 817.8,194.7 825.3,195.7 832.8,197.7 840.3,199.6 847.8,203.2 855.3,206.7 860,208.2 866.2,208.1 877.5,208.1 886.2,208.4 893.2,209 896.7,207.7 900,205.5 905.4,201.9 910.2,197.3 914.8,191.7 919.3,187.6 924.2,181.9 928.2,177.9 932.3,172.2 936.4,165.7 941.2,157.6 946.1,148.7 951,139.7 952.7,135 959.7,124.4 968.4,113.9 977.2,105.5 984.1,99.9 989.4,98.7 996.4,97 1003.4,95 1008.6,93.8 1013.8,95 1020.8,95.6 1027.8,97.3 1033.1,100.8 1037.4,105.5 1041.8,107.3 1047.4,111.6 1053.5,118 1058,123.3 1062.4,128.1 1066.9,133.2 1071.4,138.2 1078.2,146 1084.9,152.7 1089,155.3 1093.9,157.9 1098.4,161 1102.9,164 1108.5,165.9 1114.1,167.3 1119.7,168.5 1125.3,169.9 1130,170.2 1134.6,170.3" fill="none" stroke="#111" stroke-width="2.5" stroke-linejoin="round" stroke-linecap="round"/>
<path d="M257.9 290.7L264.9 297.7L257.9 304.7L250.9 297.7Z" fill="#111" stroke="#fff" stroke-width="2"/>
<path d="M476.9 256.7L483.9 263.7L476.9 270.7L469.9 263.7Z" fill="#111" stroke="#fff" stroke-width="2"/>
<path d="M695.9 242.8L702.9 249.8L695.9 256.8L688.9 249.8Z" fill="#111" stroke="#fff" stroke-width="2"/>
<path d="M914.95 184.6L921.95 191.6L914.95 198.6L907.95 191.6Z" fill="#111" stroke="#fff" stroke-width="2"/>
<path d="M1134.9 163.3L1141.9 170.3L1134.9 177.3L1127.9 170.3Z" fill="#111" stroke="#fff" stroke-width="2"/>
<path d="M425 374H441" stroke="#777" stroke-width="2.5" stroke-dasharray="10,7.5"/>
<text x="446" y="378" class="lg" textLength="111.4" lengthAdjust="spacing">7-Day Average</text>
<path d="M578 374H594" stroke="#111" stroke-width="2.5"/>
<text x="598.3" y="378" class="lg" textLength="120" lengthAdjust="spacing">90-Day Average</text>
</svg>
</body></html>
